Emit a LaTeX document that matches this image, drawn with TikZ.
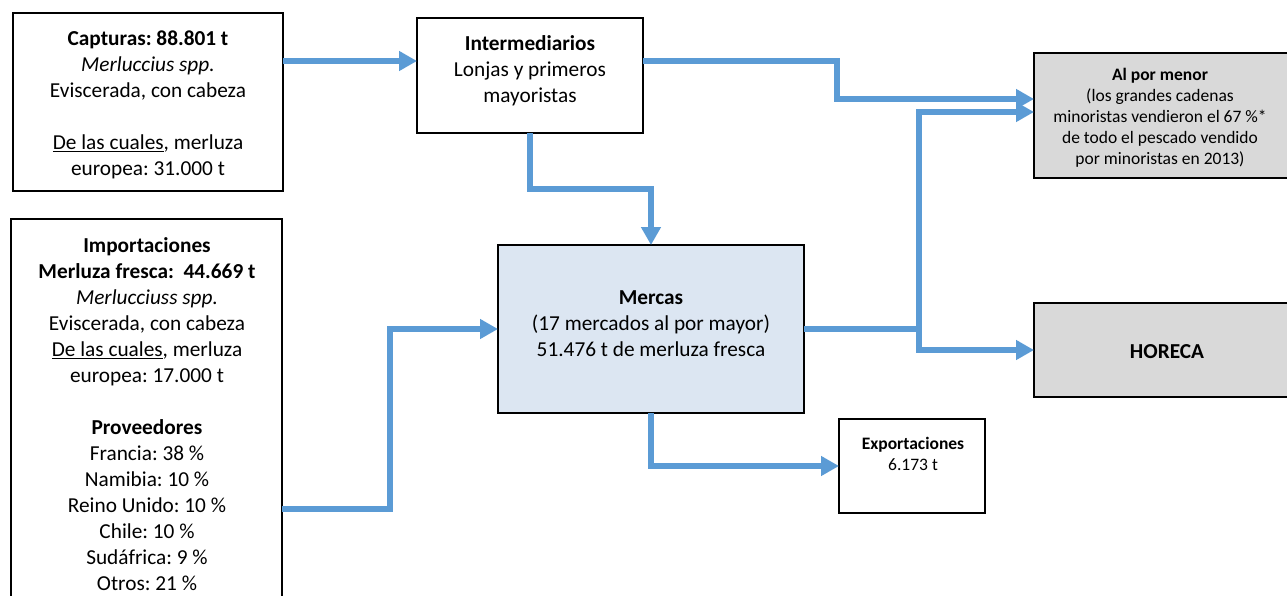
\documentclass[tikz,border=0pt]{standalone}
\usepackage{fontspec}
\setmainfont{Carlito}
\usetikzlibrary{arrows.meta}
\frenchspacing

\definecolor{flowblue}{HTML}{5B9BD5}
\definecolor{mercasblue}{HTML}{DCE6F2}
\definecolor{boxgrey}{HTML}{D9D9D9}

\newcommand{\bigtxt}{\fontsize{21.3}{26}\selectfont}
\newcommand{\smalltxt}{\fontsize{17.5}{21}\selectfont}

\begin{document}
\begin{tikzpicture}[x=1pt, y=-1pt]
\tikzset{ box/.style={draw=black, line width=1.6pt, rectangle, anchor=north west, inner sep=0pt, outer sep=0pt},
          flow/.style={draw=flowblue, line width=5.5pt, -{Triangle[length=18pt,width=19pt]}},
          txt/.style={align=center, font=\bigtxt, inner sep=0pt},
          smalltext/.style={align=center, font=\smalltxt, inner sep=0pt} }

\path [use as bounding box, clip] (0,0) rectangle (1287,595);

% boxes
\node [box, minimum width=270pt, minimum height=178pt] (cap) at (13,13) {};
\node [box, minimum width=271pt, minimum height=390pt] (imp) at (11,219) {};
\node [box, minimum width=226pt, minimum height=115pt] (int) at (417,18) {};
\node [box, fill=mercasblue, minimum width=306pt, minimum height=168pt] (mer) at (498,245) {};
\node [box, minimum width=146pt, minimum height=94pt] (exp) at (839,419) {};
\node [box, fill=boxgrey, minimum width=262pt, minimum height=125pt] (al) at (1034,53) {};
\node [box, fill=boxgrey, minimum width=262pt, minimum height=94pt] (hor) at (1034,303) {};

% texts
\node [txt] (captxt) at (148,105) {\textbf{Capturas: 88.801 t}\\ \textit{Merluccius spp.}\\ Eviscerada, con cabeza\\[26pt] \underline{De las cuales}, merluza\\ europea: 31.000 t};
\node [txt] (inttxt) at (530,71) {\textbf{Intermediarios}\\ Lonjas y primeros\\ mayoristas};
\node [txt] (imptxt) at (147,414) {\textbf{Importaciones}\\ \textbf{Merluza fresca:\ \ 44.669 t}\\ \textit{Merlucciuss spp.}\\ Eviscerada, con cabeza\\ \underline{De las cuales}, merluza\\ europea: 17.000 t\\[26pt] \textbf{Proveedores}\\ Francia: 38~\%\\ Namibia: 10~\%\\ Reino Unido: 10~\%\\ Chile: 10~\%\\ Sudáfrica: 9~\%\\ Otros: 21~\%};
\node [txt] (mertxt) at (651,324) {\textbf{Mercas}\\ (17 mercados al por mayor)\\ 51.476 t de merluza fresca};
\node [smalltext] (exptxt) at (913,454) {\textbf{Exportaciones}\\ 6.173 t};
\node [smalltext] (altxt) at (1160,118) {\textbf{Al por menor}\\ (los grandes cadenas\\ minoristas vendieron el 67~\%*\\ de todo el pescado vendido\\ por minoristas en 2013)};
\node [txt] (hortxt) at (1167,352) {\textbf{HORECA}};

% bends of the flows
\coordinate (r1) at (0,61);
\coordinate (r2) at (837,99);
\coordinate (r3) at (919,112);
\coordinate (r4) at (390,509);

\draw [flow] (cap.east |- r1) -- (int.west |- r1);
\draw [flow] (int.east |- r1) -| (r2) -- (al.west |- r2);
\draw [flow] (int.south) -- ++(0,56) -| (mer.north);
\draw [flow] (imp.east |- r4) -- (r4) |- (mer.west);
\draw [flow] (mer.east) -| (r3) -- (al.west |- r3);
\draw [flow] (mer.east) -- (mer.east -| r3) |- (hor.west);
\draw [flow] (mer.south) |- (exp.west);

\end{tikzpicture}
\end{document}
